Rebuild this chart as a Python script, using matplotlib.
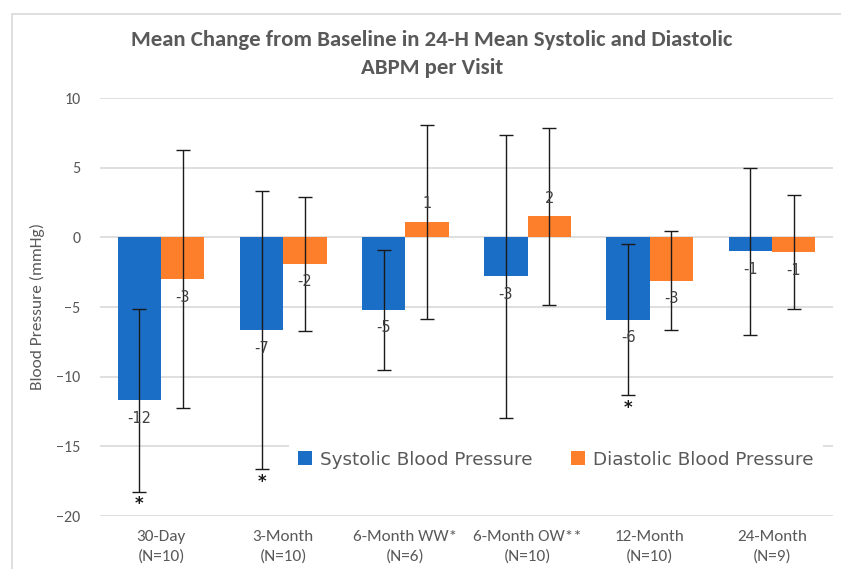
import matplotlib
matplotlib.use("Agg")
import matplotlib.pyplot as plt
from matplotlib import font_manager
from matplotlib.patches import Rectangle
import numpy as np

# Data
visits = ["30-Day\n(N=10)", "3-Month\n(N=10)", "6-Month WW*\n(N=6)",
          "6-Month OW**\n(N=10)", "12-Month\n(N=10)", "24-Month\n(N=9)"]
systolic = [-11.7, -6.65, -5.2, -2.8, -5.9, -1.0]
systolic_err = [6.55, 10.0, 4.3, 10.15, 5.45, 6.0]
diastolic = [-3.0, -1.9, 1.1, 1.5, -3.1, -1.05]
diastolic_err = [9.25, 4.8, 6.95, 6.35, 3.55, 4.1]
significant = [True, True, False, False, True, False]

BLUE = "#1b6ec6"
ORANGE = "#fd7f2c"
GREY = "#595959"

available = {f.name for f in font_manager.fontManager.ttflist}
narrow = next((f for f in ["Carlito", "Liberation Sans Narrow", "Open Sans"]
               if f in available), "DejaVu Sans")

fig = plt.figure(figsize=(8.41, 5.69), dpi=100)
ax = fig.add_axes([100 / 841, 1 - 516 / 569, 733 / 841, 418 / 569])

# outer chart border (partly cut off like the screenshot)
fig.patches.append(Rectangle((12 / 841, -0.1), 1.0, 1 - 14 / 569 + 0.1,
                             transform=fig.transFigure, fill=False,
                             edgecolor="#d9d9d9", linewidth=1.2))

x = np.arange(len(visits))
w = 0.355
ax.bar(x - w / 2, systolic, w, color=BLUE, label="Systolic Blood Pressure", zorder=2)
ax.bar(x + w / 2, diastolic, w, color=ORANGE, label="Diastolic Blood Pressure", zorder=2)
ax.errorbar(x - w / 2, systolic, yerr=systolic_err, fmt="none", ecolor="#1a1a1a",
            elinewidth=1, capsize=5, capthick=1, zorder=3)
ax.errorbar(x + w / 2, diastolic, yerr=diastolic_err, fmt="none", ecolor="#1a1a1a",
            elinewidth=1, capsize=5, capthick=1, zorder=3)

# data labels (Excel style rounding, half away from zero)
for xs, vals in [(x - w / 2, systolic), (x + w / 2, diastolic)]:
    for xi, v in zip(xs, vals):
        off = 13 if v > 0 else -13
        lab = int(np.sign(v) * np.floor(abs(v) + 0.5))
        ax.annotate(f"{lab:d}", (xi, v), xytext=(0, off), textcoords="offset points",
                    ha="center", va="center", fontsize=10.5, color="#404040", zorder=4)

# significance stars
for xi, v, e, s in zip(x - w / 2, systolic, systolic_err, significant):
    if s:
        ax.annotate("*", (xi, v - e), xytext=(0, -9), textcoords="offset points",
                    ha="center", va="center", fontsize=12, fontweight="bold",
                    color="#1a1a1a", zorder=4)

ax.set_xlim(-0.5, len(visits) - 0.5)
ax.set_ylim(-20, 10)
ax.set_yticks(np.arange(-20, 11, 5))
ax.yaxis.grid(True, color="#d9d9d9", linewidth=1.2, zorder=0)
ax.set_axisbelow(True)
for sp in ax.spines.values():
    sp.set_visible(False)
ax.tick_params(length=0, colors=GREY)
ax.tick_params(axis="y", pad=14, labelsize=11.5)
ax.tick_params(axis="x", pad=10, labelsize=12.3)
ax.set_xticks(x)
ax.set_xticklabels(visits, linespacing=1.45)
for lab in ax.get_xticklabels() + ax.get_yticklabels():
    lab.set_fontfamily(narrow)

ax.set_ylabel("Blood Pressure (mmHg)", fontsize=12.5, color=GREY, family=narrow, labelpad=8)

fig.text(432 / 841, 1 - 54 / 569, "Mean Change from Baseline in 24-H Mean Systolic and Diastolic\nABPM per Visit",
         ha="center", va="center", fontsize=16.4, fontweight="bold", color=GREY,
         family=narrow, linespacing=1.45)

leg = ax.legend(loc="center left", bbox_to_anchor=(0.245, 0.135), ncol=2,
                frameon=True, facecolor="white", edgecolor="none", framealpha=1,
                fontsize=13.2, handlelength=0.75, handleheight=0.75, handletextpad=0.45,
                columnspacing=2.1, borderpad=0.5, fancybox=False)
for t in leg.get_texts():
    t.set_color(GREY)
leg.set_zorder(5)

fig.savefig("out.png", dpi=100)
